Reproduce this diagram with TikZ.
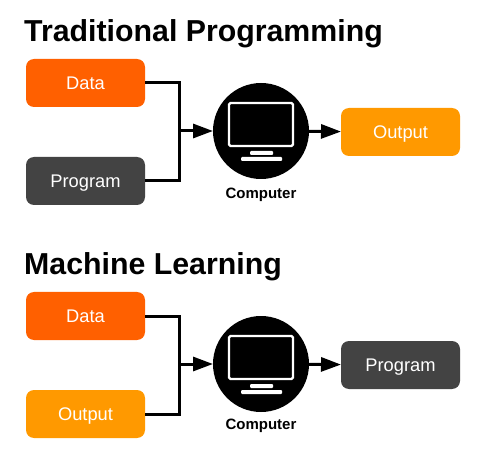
\documentclass[tikz,border=0pt]{standalone}
\usepackage{xcolor}
\usepackage{fontspec}
\setmainfont{Liberation Sans}
\usepackage{tikz}
\usetikzlibrary{arrows.meta}
\definecolor{arancio}{HTML}{FF6000}
\definecolor{giallo}{HTML}{FF9900}
\definecolor{grigio}{HTML}{434343}
\tikzset{
  databox/.style={rectangle, rounded corners=8pt, minimum width=119pt, minimum height=48pt,
    text height=17pt, text depth=4pt,
    outer sep=0pt, text=white, font=\fontsize{18.3}{20}\selectfont},
  titolo/.style={anchor=west, inner sep=0pt, font=\fontsize{30.3}{36}\selectfont\bfseries},
  cerchio/.style={circle, fill=black, minimum size=96pt, inner sep=0pt, outer sep=0pt},
  etichetta/.style={font=\fontsize{15}{17}\selectfont\bfseries, inner sep=0pt},
  wire/.style={line width=3pt},
  flow/.style={line width=3pt, -{Triangle[length=20pt,width=14pt]}},
  schermo/.style={white, line width=2.2pt, rounded corners=1.5pt},
  piede/.style={fill=white, rounded corners=1pt}
}
\begin{document}
\begin{tikzpicture}[x=1pt,y=-1pt]
  \useasboundingbox (0,0) rectangle (488,468);
  % Traditional programming
  \node[titolo] (titleA) at (24,34) {Traditional Programming};
  \node[databox, fill=arancio] (dataA) at (85.5,83) {Data};
  \node[databox, fill=grigio] (programA) at (85.5,181) {Program};
  \node[databox, fill=giallo] (outputA) at (400.5,132) {Output};
  \node[cerchio] (computerA) at (261,131) {};
  \node[etichetta] (labelA) at (261,194.5) {Computer};
  \coordinate (joinA) at (179,131);
  \draw[wire] (dataA.east) -| (joinA);
  \draw[wire] (programA.east) -| (joinA);
  \draw[flow] (joinA) -- (computerA);
  \draw[flow] (computerA) -- (outputA);
  % Monitor
  \draw[schermo] (229,103) rectangle (293,146);
  \fill[piede] (250,151) rectangle (273,155);
  \fill[piede] (241,157) rectangle (282,161);
  % Machine learning
  \node[titolo] (titleB) at (24,267) {Machine Learning};
  \node[databox, fill=arancio] (dataB) at (85.5,316) {Data};
  \node[databox, fill=giallo] (outputB) at (85.5,414) {Output};
  \node[databox, fill=grigio] (programB) at (400.5,365) {Program};
  \node[cerchio] (computerB) at (261,364) {};
  \node[etichetta] (labelB) at (261,425.5) {Computer};
  \coordinate (joinB) at (179,364);
  \draw[wire] (dataB.east) -| (joinB);
  \draw[wire] (outputB.east) -| (joinB);
  \draw[flow] (joinB) -- (computerB);
  \draw[flow] (computerB) -- (programB);
  % Monitor
  \draw[schermo] (229,336) rectangle (293,379);
  \fill[piede] (250,384) rectangle (273,388);
  \fill[piede] (241,390) rectangle (282,394);
\end{tikzpicture}
\end{document}
